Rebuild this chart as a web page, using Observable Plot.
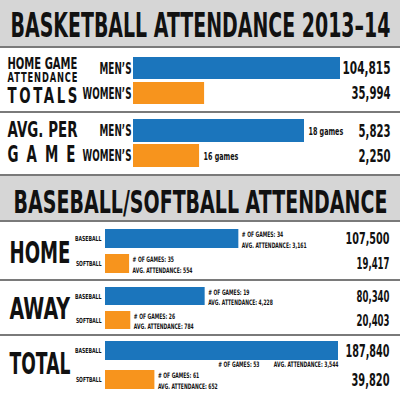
<!DOCTYPE html>
<html>
<head>
<meta charset="utf-8">
<script src="https://cdn.jsdelivr.net/npm/d3@7"></script>
<script src="https://cdn.jsdelivr.net/npm/@observablehq/plot@0.6"></script>
<style>
html, body { margin: 0; padding: 0; background: #fff; }
#root { position: relative; width: 400px; height: 400px; overflow: hidden; background: #fff; }
.blk { position: absolute; left: 0; width: 400px; }
.band { background: #d6d6d6; }
.rule { position: absolute; left: 0; width: 400px; height: 2px; background: #7a7a7a; }
svg { display: block; }
</style>
</head>
<body>
<div id="root"></div>
<script>
// ---------- data ----------
const title1 = "BASKETBALL ATTENDANCE 2013–14";
const title2 = "BASEBALL/SOFTBALL ATTENDANCE";
const bbGroups = ["MEN’S", "WOMEN’S"];
const bbTotals = [104815, 35994];
const bbAvg = [5823, 2250];
const bbGames = [18, 16];
const totalsLabel = ["HOME GAME", "ATTENDANCE", "TOTALS"];

const sections = ["HOME", "AWAY", "TOTAL"];
const sports = ["BASEBALL", "SOFTBALL"];
const baseballAttendance = [107500, 80340, 187840];
const softballAttendance = [19417, 20403, 39820];
const baseballGames = [34, 19, 53];
const softballGames = [35, 26, 61];
const baseballAvg = [3161, 4228, 3544];
const softballAvg = [554, 784, 652];

// ---------- style ----------
const FONT = "'DejaVu Sans', sans-serif";
const BLUE = "#1b75bc", ORANGE = "#f7941d", INK = "#111";
const fmt = d3.format(",");
const WIDTHS = {
  [title1]: 380, [title2]: 374,
  "AVG. PER": 70, "GAME": 76,
  "MEN’S": 32, "WOMEN’S": 49,
  "HOME": 61, "AWAY": 61, "TOTAL": 61,
  "BASEBALL": 27, "SOFTBALL": 26,
  "104,815": 48, "35,994": 39, "5,823": 32, "2,250": 32,
  "107,500": 44, "19,417": 33, "80,340": 33, "20,403": 33, "187,840": 44, "39,820": 38,
  "18 games": 35, "16 games": 35
};
const SPACING = { "GAME": "0.6em" };
// stacked multi-line label: per-line font size and baseline (px from panel top)
const STACKS = {
  [totalsLabel.join("")]: { width: 70, lines: [{ size: 16.5, base: 21 }, { size: 13.7, base: 34 }, { size: 22, base: 55 }] }
};
const SQUEEZE = 0.6;

const root = document.getElementById("root");
function block(top, height, cls) {
  const d = document.createElement("div");
  d.className = "blk" + (cls ? " " + cls : "");
  d.style.top = top + "px";
  d.style.height = height + "px";
  root.appendChild(d);
  return d;
}
function rule(top) {
  const d = document.createElement("div");
  d.className = "rule";
  d.style.top = top + "px";
  root.appendChild(d);
}
function applyScale(t, k) {
  const tr = t.getAttribute("transform");
  if (tr) {
    t.setAttribute("transform", `${tr} scale(${k},1)`);
  } else {
    const x = +t.getAttribute("x") || 0, y = +t.getAttribute("y") || 0;
    t.setAttribute("transform", `translate(${x},${y}) scale(${k},1) translate(${-x},${-y})`);
  }
}
// horizontally condense every text around its own anchor point
function condense(svg) {
  svg.querySelectorAll("text").forEach(t => {
    const s = t.textContent;
    const st = STACKS[s];
    if (st) {
      const spans = Array.from(t.querySelectorAll("tspan"));
      spans.forEach((sp, j) => {
        sp.removeAttribute("dy");
        sp.setAttribute("y", st.lines[j].base);
        sp.setAttribute("font-size", st.lines[j].size);
      });
      const nat = spans.map(sp => sp.getComputedTextLength());
      const k = st.width / nat[0];
      spans.forEach((sp, j) => {
        if (j) {
          const n = sp.textContent.length;
          sp.style.letterSpacing = ((st.width / k - nat[j]) / (n - 1)) + "px";
        }
      });
      applyScale(t, k);
      return;
    }
    if (SPACING[s]) t.style.letterSpacing = SPACING[s];
    const natural = t.getBBox().width || 1;
    const k = t.querySelector("tspan") ? SQUEEZE : (WIDTHS[s] != null ? WIDTHS[s] / natural : SQUEEZE);
    applyScale(t, k);
  });
}
function mount(div, svg) { div.appendChild(svg); condense(svg); }
const baseStyle = { background: "transparent", fontFamily: FONT, color: INK };
const big = (label, dx, dy, fontSize) =>
  Plot.text([label], { frameAnchor: "top-left", lineAnchor: "top", textAnchor: "start",
    dx, dy, fontSize, fontWeight: 700, fill: INK });

// ---------- title band 1 ----------
mount(block(0, 46, "band"), Plot.plot({
  width: 400, height: 46, margin: 0, style: baseStyle,
  marks: [Plot.text([title1], { frameAnchor: "top", lineAnchor: "top", dy: 12, fontSize: 34, fontWeight: 700, fill: INK })]
}));
rule(46);

// ---------- basketball totals ----------
const rowsA = bbGroups.map((group, i) => ({ group, value: bbTotals[i] }));
mount(block(48, 63), Plot.plot({
  width: 400, height: 63, marginTop: 0, marginBottom: 0, marginLeft: 0, marginRight: 10,
  style: baseStyle,
  x: { domain: [0, d3.max(bbTotals)], range: [133, 340], axis: null },
  y: { type: "band", domain: bbGroups, range: [8, 57], paddingInner: 0.115, paddingOuter: 0, axis: null },
  color: { domain: bbGroups, range: [BLUE, ORANGE] },
  marks: [
    Plot.barX(rowsA, { x: "value", y: "group", fill: "group" }),
    Plot.text(rowsA, { x: 0, y: "group", text: "group", textAnchor: "end", dx: -2, fontSize: 16, fontWeight: 700, fill: INK }),
    Plot.text(rowsA, { y: "group", frameAnchor: "right", textAnchor: "end", text: d => fmt(d.value), fontSize: 18, fontWeight: 700, fill: INK }),
    big(totalsLabel.join("\n"), 7, 0, 16.5)
  ]
}));
rule(111);

// ---------- basketball average ----------
const rowsB = bbGroups.map((group, i) => ({ group, value: bbAvg[i], games: bbGames[i] }));
mount(block(113, 61), Plot.plot({
  width: 400, height: 61, marginTop: 0, marginBottom: 0, marginLeft: 0, marginRight: 10,
  style: baseStyle,
  x: { domain: [0, d3.max(bbAvg)], range: [133, 304], axis: null },
  y: { type: "band", domain: bbGroups, range: [6, 54], paddingInner: 0.08, paddingOuter: 0, axis: null },
  color: { domain: bbGroups, range: [BLUE, ORANGE] },
  marks: [
    Plot.barX(rowsB, { x: "value", y: "group", fill: "group" }),
    Plot.text(rowsB, { x: 0, y: "group", text: "group", textAnchor: "end", dx: -2, fontSize: 16, fontWeight: 700, fill: INK }),
    Plot.text(rowsB, { x: "value", y: "group", text: d => `${d.games} games`, textAnchor: "start", dx: 4, fontSize: 11, fontWeight: 700, fill: INK }),
    Plot.text(rowsB, { y: "group", frameAnchor: "right", textAnchor: "end", text: d => fmt(d.value), fontSize: 18, fontWeight: 700, fill: INK }),
    big("AVG. PER", 7, 8, 22),
    big("GAME", 7, 32, 23)
  ]
}));
rule(174);

// ---------- title band 2 ----------
mount(block(176, 44, "band"), Plot.plot({
  width: 400, height: 44, margin: 0, style: baseStyle,
  marks: [Plot.text([title2], { frameAnchor: "top", lineAnchor: "top", dy: 14, fontSize: 31.5, fontWeight: 700, fill: INK })]
}));
rule(220);

// ---------- baseball / softball panels ----------
function sportPanel(i, top, height, yRange, pi, labelDy, valueSize, noteBelow) {
  const rows = sports.map((sport, j) => ({
    sport,
    value: j ? softballAttendance[i] : baseballAttendance[i],
    games: j ? softballGames[i] : baseballGames[i],
    avg: j ? softballAvg[i] : baseballAvg[i]
  }));
  const side = noteBelow ? rows.filter(r => r.sport !== "BASEBALL") : rows;
  const below = noteBelow ? rows.filter(r => r.sport === "BASEBALL") : [];
  mount(block(top, height), Plot.plot({
    width: 400, height, marginTop: 0, marginBottom: 0, marginLeft: 0, marginRight: 11,
    style: baseStyle,
    x: { domain: [0, d3.max(baseballAttendance)], range: [105, 338], axis: null },
    y: { type: "band", domain: sports, range: yRange, paddingInner: pi, paddingOuter: 0, axis: null },
    color: { domain: sports, range: [BLUE, ORANGE] },
    marks: [
      Plot.barX(rows, { x: "value", y: "sport", fill: "sport" }),
      Plot.text(rows, { x: 0, y: "sport", text: "sport", textAnchor: "end", dx: -4, fontSize: 7, fontWeight: 700, fill: INK }),
      Plot.text(side, { x: "value", y: "sport", text: d => `# OF GAMES: ${d.games}\nAVG. ATTENDANCE: ${fmt(d.avg)}`,
        textAnchor: "start", dx: 3, lineHeight: 1.4, fontSize: 7.5, fontWeight: 700, fill: INK }),
      Plot.text(below, { x: "value", y: "sport", text: d => `AVG. ATTENDANCE: ${fmt(d.avg)}`,
        textAnchor: "end", dy: 14, fontSize: 7.5, fontWeight: 700, fill: INK }),
      Plot.text(below, { x: "value", y: "sport", text: d => `# OF GAMES: ${d.games}`,
        textAnchor: "end", dx: -79, dy: 14, fontSize: 7.5, fontWeight: 700, fill: INK }),
      Plot.text(rows, { y: "sport", frameAnchor: "right", textAnchor: "end", text: d => fmt(d.value), fontSize: valueSize, fontWeight: 700, fill: INK }),
      big(sections[i], 9, labelDy, 29.5)
    ]
  }));
}
sportPanel(0, 222, 57, [7, 51], 0.24, 20, 16, false);
rule(279);
sportPanel(1, 281, 53, [6, 49], 0.23, 17, 16, false);
rule(334);
sportPanel(2, 336, 64, [5, 54], 0.333, 17, 18, true);
</script>
</body>
</html>
